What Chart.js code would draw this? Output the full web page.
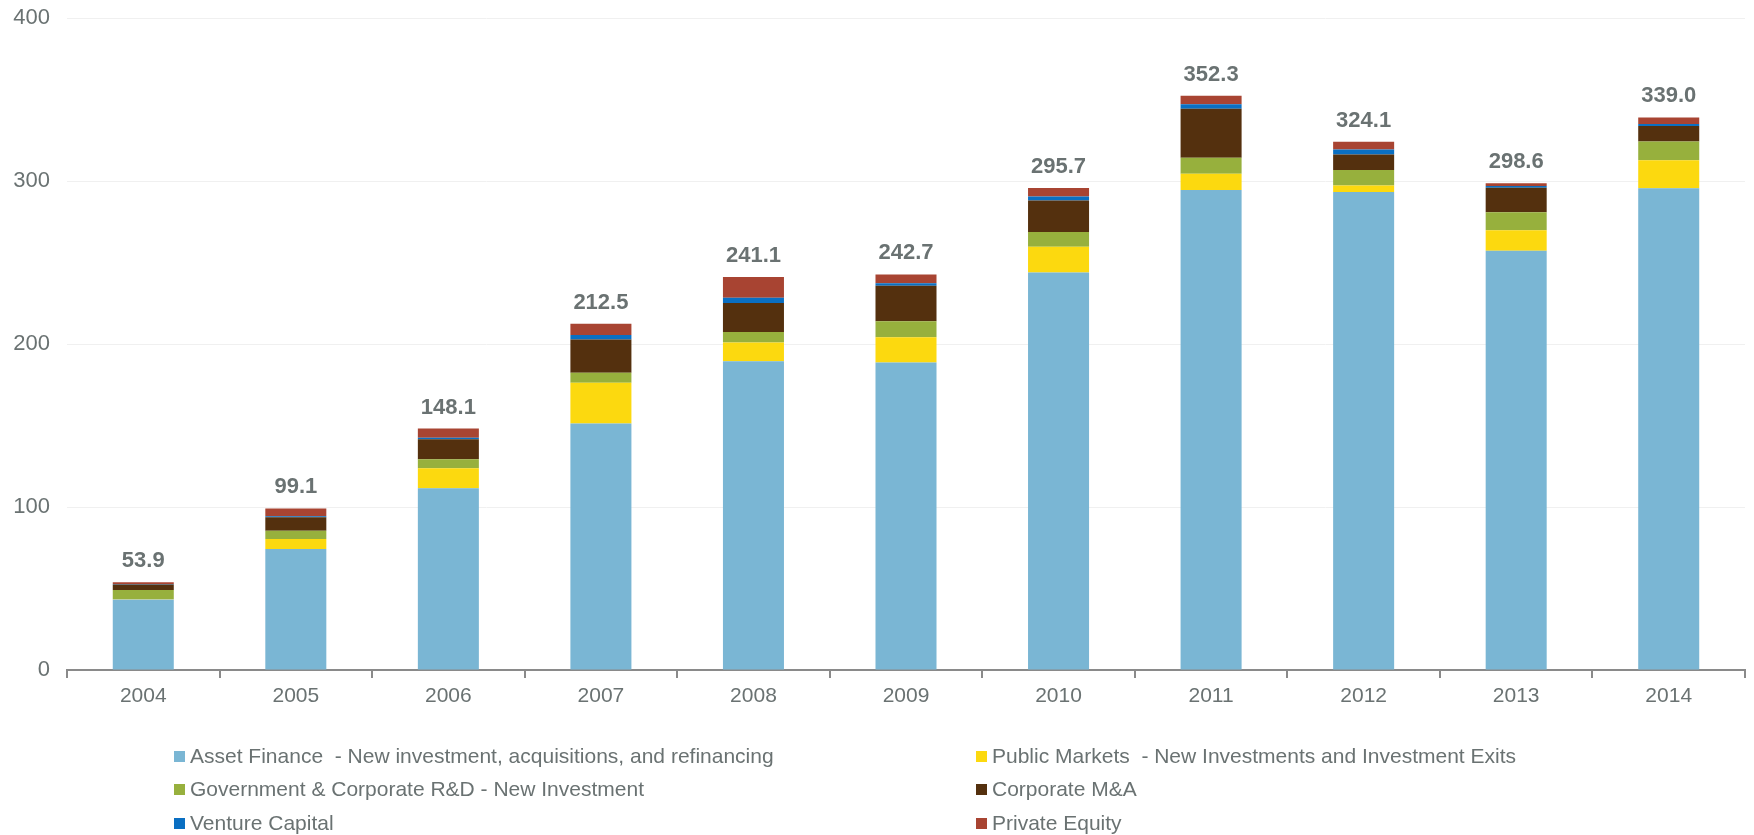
<!DOCTYPE html>
<html>
<head>
<meta charset="utf-8">
<script src="https://cdn.jsdelivr.net/npm/chart.js@4"></script>
<style>
  html, body { margin: 0; padding: 0; background: #fff; }
  #wrap { position: relative; width: 1754px; height: 835px; }
  #legend { position: absolute; left: 0; top: 0; width: 1754px; height: 835px; pointer-events: none;
            font-family: "Liberation Sans", Arial, sans-serif; font-size: 21px; color: #6a7272; }
  .item { position: absolute; display: flex; align-items: center; white-space: pre; height: 24px; }
  .box { width: 11px; height: 11px; margin-right: 5px; flex: none; }
</style>
</head>
<body>
<div id="wrap">
  <canvas id="c" width="1754" height="835"></canvas>
  <div id="legend"></div>
</div>
<script>
const years = ['2004', '2005', '2006', '2007', '2008', '2009', '2010', '2011', '2012', '2013', '2014'];

// USD bn
const assetFinance = [43.3, 74.2, 111.5, 151.3, 189.4, 188.6, 243.8, 294.5, 293.3, 257.2, 295.6];
const publicMarkets = [0.3, 6.1, 12.3, 25.0, 11.5, 15.5, 15.9, 10.0, 4.0, 12.6, 17.1];
const govRnd = [5.5, 5.2, 5.5, 6.0, 6.5, 9.9, 9.0, 9.8, 9.5, 11.1, 11.5];
const corporateMA = [3.3, 8.2, 12.3, 20.5, 17.8, 21.7, 19.3, 30.0, 9.5, 15.0, 9.6];
const ventureCapital = [0.4, 0.6, 0.9, 2.7, 3.1, 1.6, 2.5, 2.8, 3.0, 1.0, 1.2];
const privateEquity = [1.1, 4.8, 5.6, 7.0, 12.8, 5.4, 5.2, 5.2, 4.8, 1.7, 4.0];

const yTicks = [0, 100, 200, 300, 400];

const labelColor = '#6a7272';
const fontFamily = '"Liberation Sans", Arial, sans-serif';

const series = [
    { label: 'Asset Finance  - New investment, acquisitions, and refinancing', data: assetFinance, color: '#7ab6d4' },
    { label: 'Public Markets  - New Investments and Investment Exits', data: publicMarkets, color: '#fcd90f' },
    { label: 'Government & Corporate R&D - New Investment', data: govRnd, color: '#97b03d' },
    { label: 'Corporate M&A', data: corporateMA, color: '#54300e' },
    { label: 'Venture Capital', data: ventureCapital, color: '#0a6fc2' },
    { label: 'Private Equity', data: privateEquity, color: '#a84432' }
];

// totals above each stack
const totalsPlugin = {
    id: 'totals',
    afterDatasetsDraw(chart) {
        const ctx = chart.ctx;
        const last = chart.getDatasetMeta(chart.data.datasets.length - 1);
        ctx.save();
        ctx.font = 'bold 22px ' + fontFamily;
        ctx.fillStyle = labelColor;
        ctx.textAlign = 'center';
        ctx.textBaseline = 'alphabetic';
        years.forEach((y, i) => {
            let sum = 0;
            chart.data.datasets.forEach(ds => { sum += ds.data[i]; });
            const bar = last.data[i];
            ctx.fillText(sum.toFixed(1), bar.x, bar.y - 15);
        });
        ctx.restore();
    }
};

new Chart(document.getElementById('c'), {
    type: 'bar',
    data: {
        labels: years,
        datasets: series.map(s => ({
            label: s.label,
            data: s.data,
            backgroundColor: s.color,
            borderWidth: 0,
            barPercentage: 0.4,
            categoryPercentage: 1.0
        }))
    },
    options: {
        responsive: false,
        animation: false,
        layout: { padding: { top: 18, right: 9, bottom: 0, left: 0 } },
        plugins: {
            legend: { display: false },
            tooltip: { enabled: false }
        },
        scales: {
            x: {
                stacked: true,
                afterFit: s => { s.height = 165; },
                grid: { display: true, drawOnChartArea: false, drawTicks: true, tickLength: 8, color: '#8a8a8a', lineWidth: 2 },
                border: { display: true, color: '#8a8a8a', width: 2 },
                ticks: { color: labelColor, font: { family: fontFamily, size: 21 }, padding: 6 }
            },
            y: {
                stacked: true,
                min: 0,
                max: 400,
                afterFit: s => { s.width = 67; s.paddingTop = 0; s.paddingBottom = 0; },
                afterBuildTicks: s => { s.ticks = yTicks.map(v => ({ value: v })); },
                grid: { color: '#f0f0f0', lineWidth: 1, drawTicks: false },
                border: { display: false },
                ticks: { color: labelColor, font: { family: fontFamily, size: 22 }, padding: 17 }
            }
        }
    },
    plugins: [totalsPlugin]
});

// two-column legend underneath
const legend = document.getElementById('legend');
const cols = [174, 976];
const rows = [756, 789, 823];
series.forEach((s, i) => {
    const el = document.createElement('div');
    el.className = 'item';
    el.style.left = cols[i % 2] + 'px';
    el.style.top = (rows[Math.floor(i / 2)] - 12) + 'px';
    const box = document.createElement('span');
    box.className = 'box';
    box.style.background = s.color;
    el.appendChild(box);
    el.appendChild(document.createTextNode(s.label));
    legend.appendChild(el);
});
</script>
</body>
</html>
